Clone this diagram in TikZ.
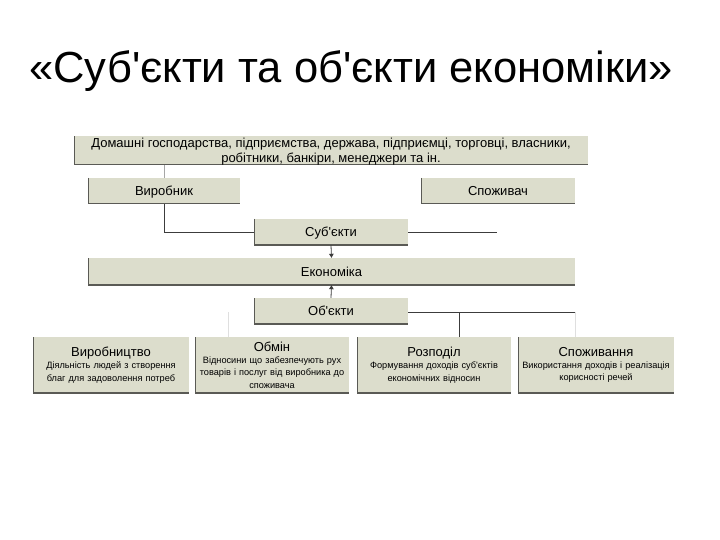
\documentclass[tikz,border=0pt]{standalone}
\usepackage{fontspec}
\setmainfont{Liberation Sans}[Ligatures=TeXOff]
\usetikzlibrary{arrows.meta}
\definecolor{boxfill}{HTML}{DCDDCC}
\definecolor{boxedge}{HTML}{5A5A55}
\definecolor{linedark}{HTML}{3C3C3C}
\newcommand{\btitlefont}{\fontsize{13}{15.5}\selectfont}
\tikzset{
  box/.style={fill=boxfill, inner sep=0pt, font=\fontsize{13}{15}\selectfont,
    path picture={\draw[line width=1.6pt, boxedge]
      (path picture bounding box.north west) -- (path picture bounding box.south west)
      -- (path picture bounding box.south east);}},
  lbl/.style={box, text height=9.4pt, text depth=0.2pt},
  bbox/.style={box, align=center, minimum height=56, font=\fontsize{9.2}{12.3}\selectfont},
  conn/.style={draw=linedark, line width=0.8pt},
  connlight/.style={draw=gray!70, line width=0.7pt},
  connfaint/.style={draw=gray!25, line width=0.7pt},
  arr/.style={conn, -{Triangle[length=4pt,width=4.5pt]}},
}
\begin{document}
\begin{tikzpicture}[x=1pt,y=-1pt]
\useasboundingbox (0,0) rectangle (720,540);
\node[font=\fontsize{43.5}{50}\selectfont, anchor=base] (title) at (351,83) {«Суб'єкти та об'єкти економіки»};

\node[box, minimum width=514, minimum height=28] (top) at (331,150.5) {};
\node[align=center, font=\fontsize{13}{15}\selectfont, inner sep=0pt] (toptext) at ([yshift=-1.5pt]top.center)
  {Домашні господарства, підприємства, держава, підприємці, торговці, власники,\\робітники, банкіри, менеджери та ін.};
\node[lbl, minimum width=152, minimum height=26] (vyr) at (164,191) {Виробник};
\node[lbl, minimum width=154, minimum height=26] (spo) at (498,191) {Споживач};
\node[lbl, minimum width=154, minimum height=26] (sub) at (331,232) {Суб'єкти};
\node[lbl, minimum width=487, minimum height=27] (eko) at (331.5,271.5) {Економіка};
\node[lbl, minimum width=154, minimum height=26] (obj) at (331,311) {Об'єкти};

\node[bbox, minimum width=156, text width=152] (b1) at (111,365)
  {{\btitlefont Виробництво}\\Діяльність людей з створення\\благ для задоволення потреб};
\node[bbox, minimum width=154, text width=152] (b2) at (272,365)
  {{\btitlefont Обмін}\\Відносини що забезпечують рух\\товарів і послуг від виробника до\\споживача};
\node[bbox, minimum width=154, text width=152] (b3) at (434,365)
  {{\btitlefont Розподіл}\\Формування доходів суб'єктів\\економічних відносин};
\node[bbox, minimum width=156, text width=154] (b4) at (596,365)
  {{\btitlefont Споживання}\\Використання доходів і реалізація\\корисності речей};

% connectors
\draw[connlight] (vyr.north) -- (vyr.north |- top.south);
\draw[conn] (vyr.south) |- (sub.west);
\coordinate (subend) at (497,232);
\draw[conn] (sub.east) -- (subend);
\draw[arr] (sub.south) -- (eko.north);
\draw[arr] (obj.north) -- (eko.south);
\coordinate (objend) at (575,312);
\coordinate (objj) at (459,312);
\draw[conn] (obj.east |- objend) -- (objend);
\draw[conn] (objj) -- (objj |- b3.north);
\coordinate (fa) at (228,312);
\draw[connfaint] (fa) -- (fa |- b2.north);
\draw[connfaint] (objend) -- (objend |- b4.north);
\end{tikzpicture}
\end{document}
